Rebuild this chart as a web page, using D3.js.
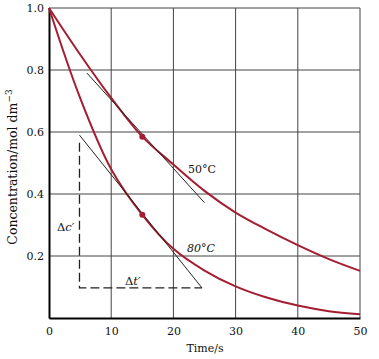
<!DOCTYPE html>
<html><head><meta charset="utf-8">
<script src="https://cdn.jsdelivr.net/npm/d3@7"></script>
<style>body{margin:0;background:#fff}svg{display:block}</style>
</head><body>
<svg id="c" width="379" height="359"></svg>
<script>
const times = [0,5,10,15,20,25,30,35,40,45,50];
const conc50 = [1.0,0.85,0.71,0.585,0.495,0.41,0.34,0.285,0.235,0.19,0.152];
const conc80 = [1.0,0.71,0.48,0.333,0.223,0.153,0.102,0.066,0.04,0.022,0.012];
const xTicks = [0,10,20,30,40,50];
const yTicks = [0.2,0.4,0.6,0.8,1.0];
const points = [{t:15,c:0.585},{t:15,c:0.333}];
const tangent50 = [[6.1,0.79],[25,0.372]];
const tangent80 = [[4.9,0.59],[24.6,0.097]];
const triangle = [[4.9,0.565],[4.9,0.097],[24.6,0.097]];

const svg = d3.select("#c");
const x = d3.scaleLinear().domain([0,50]).range([49,360]);
const y = d3.scaleLinear().domain([0,1]).range([318,8]);
const red = "#a51d30";
const font = "DejaVu Serif";

// grid
svg.append("g").selectAll("line").data(xTicks.slice(1)).join("line")
  .attr("x1",d=>x(d)).attr("x2",d=>x(d)).attr("y1",y(0)).attr("y2",y(1))
  .attr("stroke","#444").attr("stroke-width",1);
svg.append("g").selectAll("line").data(yTicks).join("line")
  .attr("x1",x(0)).attr("x2",x(50)).attr("y1",d=>y(d)).attr("y2",d=>y(d))
  .attr("stroke","#444").attr("stroke-width",1);

// axes
const xAxis = d3.axisBottom(x).tickValues(xTicks).tickSize(0).tickPadding(9).tickFormat(d3.format("d"));
const gx = svg.append("g").attr("transform",`translate(0,${y(0)})`).call(xAxis);
const yAxis = d3.axisLeft(y).tickValues(yTicks).tickSize(0).tickPadding(5).tickFormat(d3.format(".1f"));
const gy = svg.append("g").attr("transform",`translate(${x(0)},0)`).call(yAxis);
[gx,gy].forEach(g=>{
  g.select(".domain").attr("stroke","#000").attr("stroke-width",2);
  g.selectAll("text").attr("font-family",font).attr("font-size",11).attr("fill","#111");
});

// curves
const line = d3.line().x(d=>x(d[0])).y(d=>y(d[1])).curve(d3.curveCatmullRom.alpha(0.5));
[conc50,conc80].forEach(s=>{
  svg.append("path").attr("d",line(times.map((t,i)=>[t,s[i]])))
    .attr("fill","none").attr("stroke",red).attr("stroke-width",2);
});

// tangents
const straight = d3.line().x(d=>x(d[0])).y(d=>y(d[1]));
[tangent50,tangent80].forEach(tg=>{
  svg.append("path").attr("d",straight(tg)).attr("fill","none").attr("stroke","#222").attr("stroke-width",1);
});
svg.append("path").attr("d",straight(triangle)).attr("fill","none")
  .attr("stroke","#222").attr("stroke-width",1.3).attr("stroke-dasharray","9,4");

// points
svg.append("g").selectAll("circle").data(points).join("circle")
  .attr("cx",d=>x(d.t)).attr("cy",d=>y(d.c)).attr("r",3).attr("fill",red);

// labels
function txt(xp,yp,s,opts={}){
  const t = svg.append("text").attr("x",xp).attr("y",yp).attr("font-family",font)
    .attr("font-size",opts.size||11).attr("fill","#111").text(s);
  if(opts.anchor) t.attr("text-anchor",opts.anchor);
  if(opts.italic) t.attr("font-style","italic");
  return t;
}
txt(188,173,"50°C");
txt(187,252,"80°C",{italic:true});
const dc = txt(57,231,"Δ",{size:11.5}); dc.append("tspan").attr("font-style","italic").text("c′");
const dt = txt(125,285,"Δ",{size:11.5}); dt.append("tspan").attr("font-style","italic").text("t′");
txt(205,352,"Time/s",{anchor:"middle"});
const yl = svg.append("text").attr("transform","translate(17,167) rotate(-90)")
  .attr("text-anchor","middle").attr("font-family",font).attr("font-size",12.5).attr("fill","#111")
  .text("Concentration/mol dm");
yl.append("tspan").attr("dy",-5).attr("font-size",9).text("−3");
</script>
</body></html>
